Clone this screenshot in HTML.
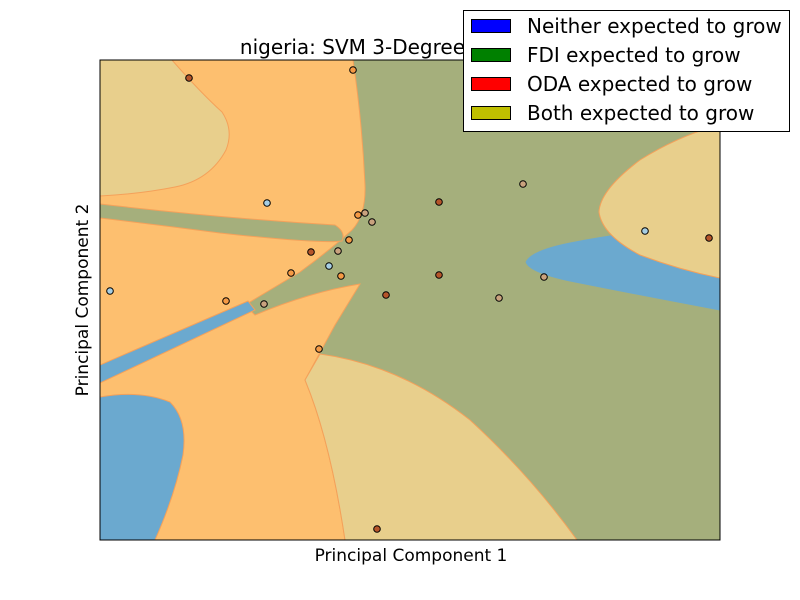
<!DOCTYPE html>
<html><head><meta charset="utf-8"><style>
body{margin:0;background:#fff;}
svg{display:block;font-family:"DejaVu Sans","Liberation Sans",sans-serif;}
</style></head><body>
<svg width="800" height="600">
<defs><clipPath id="pc"><rect x="100" y="60" width="620" height="480"/></clipPath></defs>
<g clip-path="url(#pc)">
<rect x="100" y="60" width="620" height="480" fill="#a5af7c"/>
<path fill="#fdbf6f" stroke="#f4a15a" stroke-width="1"
 d="M100,60 L353,60 Q362,120 365,185 Q366,215 352,230 Q330,250 300,272 Q270,290 245,305 L255,315 Q310,292 360,284 L335,325 L305,380 Q330,440 345,540 L100,540 Z"/>
<path fill="#e8cf8c" stroke="#f4a15a" stroke-width="1"
 d="M100,60 L172,60 Q200,92 222,112 Q234,130 226,150 Q210,180 175,187 Q140,194 100,196 Z"/>
<path fill="#a5af7c" stroke="#f4a15a" stroke-width="1"
 d="M100,204 Q220,218 335,225 Q346,232 342,241 Q320,244 220,233 Q160,225 100,218 Z"/>
<path fill="#6ba9cf" stroke="#f4a15a" stroke-width="1"
 d="M100,365 L248,301 L255,310 L100,383 Z"/>
<path fill="#6ba9cf" stroke="#f4a15a" stroke-width="1"
 d="M100,397 Q140,390 170,402 Q188,420 183,455 Q175,495 155,540 L100,540 Z"/>
<path fill="#e8cf8c" stroke="#f4a15a" stroke-width="1"
 d="M305,380 L320,354 Q400,365 470,420 Q530,475 577,540 L345,540 Q330,440 305,380 Z"/>
<path fill="#6ba9cf" stroke="#a5af7c" stroke-width="1"
 d="M525,262 Q530,250 570,242 Q600,236 625,233 L720,278 L720,311 Q640,296 570,282 Q528,273 525,262 Z"/>
<path fill="#e8cf8c" stroke="#f4a15a" stroke-width="1"
 d="M720,125 Q680,135 640,160 Q600,190 599,212 Q602,235 640,255 Q680,270 720,278 Z"/>
<g id="pts"></g>
</g>
<rect x="100" y="60" width="620" height="480" fill="none" stroke="#000" stroke-width="1"/>
<text x="410" y="54" text-anchor="middle" font-size="20">nigeria: SVM 3-Degree Polynomial</text>
<text x="411" y="561" text-anchor="middle" font-size="17">Principal Component 1</text>
<text x="88" y="300" text-anchor="middle" font-size="17" transform="rotate(-90 88 300)">Principal Component 2</text>
<g>
<rect x="463.5" y="10.5" width="326" height="121" fill="#fff" stroke="#000"/>
<g><rect x="471.5" y="19.5" width="39" height="13" fill="#0000ff" stroke="#000"/><text x="527" y="33" font-size="20">Neither expected to grow</text></g>
<g><rect x="471.5" y="48.5" width="39" height="13" fill="#008000" stroke="#000"/><text x="527" y="62" font-size="20">FDI expected to grow</text></g>
<g><rect x="471.5" y="77.5" width="39" height="13" fill="#ff0000" stroke="#000"/><text x="527" y="91" font-size="20">ODA expected to grow</text></g>
<g><rect x="471.5" y="106.5" width="39" height="13" fill="#bfbf00" stroke="#000"/><text x="527" y="120" font-size="20">Both expected to grow</text></g>
</g>
</svg>
<script>
const xs=[89,253,167,258,265,272,339,423,249,211,238,229,241,191,339,286,399,444,545,609,10,126,164,219,277];
const ys=[462,470,337,325,327,318,338,356,300,288,289,274,264,267,265,245,242,263,309,302,249,239,236,191,11];
const cls=[3,2,0,2,1,1,3,1,2,3,1,0,2,2,3,3,1,1,0,3,0,2,1,2,3];
const colors=["#a6cee3","#c9a27e","#f59a45","#b5552a"];
const sx=v=>100+v/620*620;
const sy=v=>540-v/480*480;
const g=document.getElementById('pts');
for(let i=0;i<xs.length;i++){
 const c=document.createElementNS('http://www.w3.org/2000/svg','circle');
 c.setAttribute('cx',sx(xs[i]));c.setAttribute('cy',sy(ys[i]));c.setAttribute('r',3.3);
 c.setAttribute('fill',colors[cls[i]]);c.setAttribute('stroke','#000');c.setAttribute('stroke-width','1');
 
 
 g.appendChild(c);
}
</script>
</body></html>
